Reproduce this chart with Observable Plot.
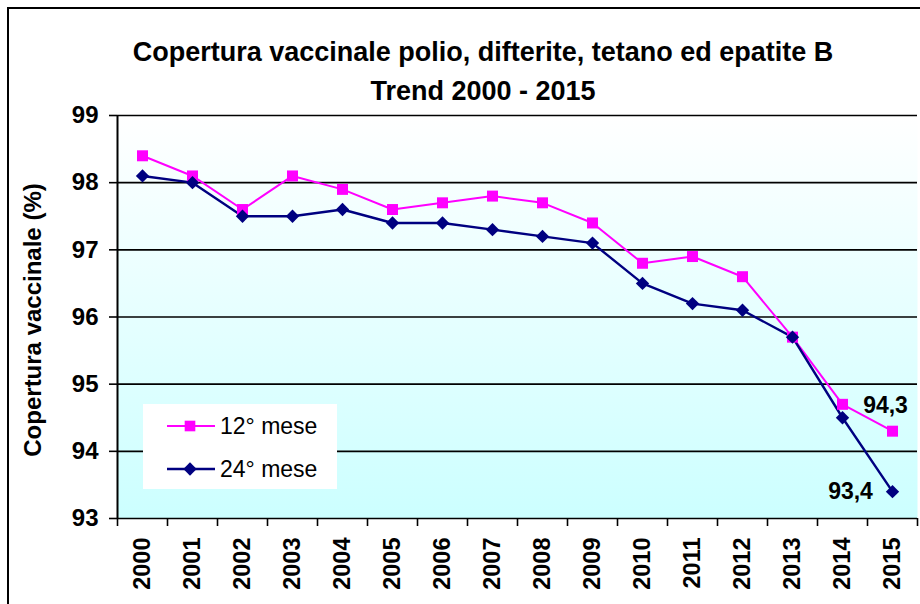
<!DOCTYPE html>
<html>
<head>
<meta charset="utf-8">
<script src="https://cdn.jsdelivr.net/npm/d3@7"></script>
<script src="https://cdn.jsdelivr.net/npm/@observablehq/plot@0.6"></script>
<style>
  html, body { margin: 0; padding: 0; background: #fff; }
  #wrap { position: relative; width: 920px; height: 604px; overflow: hidden; font-family: "Liberation Sans", Arial, sans-serif; }
  #border { position: absolute; left: 7px; top: 7px; width: 940px; height: 640px; border: 2px solid #000; box-sizing: border-box; }
  #chart { position: absolute; left: 0; top: 0; }
  .title { position: absolute; left: 0; width: 966px; text-align: center; font-weight: bold; font-size: 27px; color: #000; white-space: nowrap; }
  #ylabel { position: absolute; left: 33px; top: 320px; transform: translate(-50%, -50%) rotate(-90deg); font-weight: bold; font-size: 24px; white-space: nowrap; }
  #legend { position: absolute; left: 143px; top: 404px; width: 194px; height: 85px; background: #fff; }
  .li { position: absolute; left: 0; height: 30px; }
  .li svg { position: absolute; left: 24px; top: 0; }
  .li span { position: absolute; left: 77px; top: 1px; font-size: 23px; white-space: nowrap; line-height: 28px; }
</style>
</head>
<body>
<div id="wrap">
  <div id="border"></div>
  <div id="chart"></div>
  <div class="title" style="top:37px">Copertura vaccinale polio, difterite, tetano ed epatite B</div>
  <div class="title" style="top:76px">Trend 2000 - 2015</div>
  <div id="ylabel">Copertura vaccinale (%)</div>
  <div id="legend"></div>
</div>
<script>
const years = [2000,2001,2002,2003,2004,2005,2006,2007,2008,2009,2010,2011,2012,2013,2014,2015];
const mese12 = [98.4,98.1,97.6,98.1,97.9,97.6,97.7,97.8,97.7,97.4,96.8,96.9,96.6,95.7,94.7,94.3];
const mese24 = [98.1,98.0,97.5,97.5,97.6,97.4,97.4,97.3,97.2,97.1,96.5,96.2,96.1,95.7,94.5,93.4];
const seriesNames = ["12° mese", "24° mese"];
const seriesColors = ["#ff00ff", "#000080"];
const yTicks = [93,94,95,96,97,98,99];

const rows12 = years.map((y, i) => ({year: y, value: mese12[i]}));
const rows24 = years.map((y, i) => ({year: y, value: mese24[i]}));
const bounds = [...years.map(y => y - 0.5), years[years.length - 1] + 0.5];
const fmt = v => String(v).replace(".", ",");
const last12 = rows12.slice(-1);
const last24 = rows24.slice(-1);

const plot = Plot.plot({
  width: 920,
  height: 604,
  marginLeft: 117,
  marginRight: 3,
  marginTop: 115,
  marginBottom: 86,
  style: {background: "transparent", fontFamily: "'Liberation Sans', Arial, sans-serif", color: "#000"},
  x: {domain: [bounds[0], bounds[bounds.length - 1]], axis: null},
  y: {domain: [93, 99], axis: null},
  marks: [
    Plot.frame({fill: "url(#bg)", stroke: "none"}),
    Plot.ruleY(yTicks, {stroke: "#000", strokeWidth: 1.6}),
    Plot.ruleX([bounds[0]], {stroke: "#000", strokeWidth: 2}),
    Plot.axisY({ticks: yTicks, tickSize: 8, tickPadding: 11, tickFormat: d => String(d), fontSize: 24, fontWeight: "bold", stroke: "#000", strokeWidth: 1.6, label: null}),
    Plot.axisX({ticks: bounds, tickSize: 8, tickFormat: () => "", stroke: "#000", strokeWidth: 1.6, label: null}),
    Plot.axisX({ticks: years, tickSize: 0, tickRotate: -90, tickPadding: 19, tickFormat: d => String(d), fontSize: 23.5, fontWeight: "bold", label: null}),
    Plot.line(rows12, {x: "year", y: "value", stroke: seriesColors[0], strokeWidth: 2}),
    Plot.line(rows24, {x: "year", y: "value", stroke: seriesColors[1], strokeWidth: 2.4}),
    Plot.dot(rows12, {x: "year", y: "value", symbol: "square", r: 6.2, fill: seriesColors[0], stroke: "none"}),
    Plot.dot(rows24, {x: "year", y: "value", symbol: "diamond2", r: 6, fill: seriesColors[1], stroke: "none"}),
    Plot.text(last12, {x: "year", y: "value", text: d => fmt(d.value), dx: -7, dy: -18, lineAnchor: "bottom", fontSize: 23, fontWeight: "bold", fill: "#000"}),
    Plot.text(last24, {x: "year", y: "value", text: d => fmt(d.value), dx: -42, dy: 7, lineAnchor: "bottom", fontSize: 23, fontWeight: "bold", fill: "#000"})
  ]
});

const svg = d3.select(plot);
const defs = svg.insert("defs", ":first-child");
const grad = defs.append("linearGradient").attr("id", "bg").attr("x1", 0).attr("y1", 0).attr("x2", 0).attr("y2", 1);
grad.append("stop").attr("offset", "0%").attr("stop-color", "#ffffff");
grad.append("stop").attr("offset", "100%").attr("stop-color", "#ccffff");
document.getElementById("chart").appendChild(plot);

// legend
const legend = d3.select("#legend");
const symbols = [d3.symbolSquare, d3.symbolDiamond2];
seriesNames.forEach((name, i) => {
  const item = legend.append("div").attr("class", "li").style("top", (i === 0 ? 7 : 50) + "px").style("width", "194px");
  const s = item.append("svg").attr("width", 50).attr("height", 30);
  s.append("line").attr("x1", 0).attr("x2", 48).attr("y1", 15).attr("y2", 15).attr("stroke", seriesColors[i]).attr("stroke-width", i ? 2.4 : 2);
  s.append("path").attr("transform", "translate(23,15)").attr("d", d3.symbol(symbols[i], 6 * 6 * Math.PI)()).attr("fill", seriesColors[i]);
  item.append("span").text(name);
});
</script>
</body>
</html>
